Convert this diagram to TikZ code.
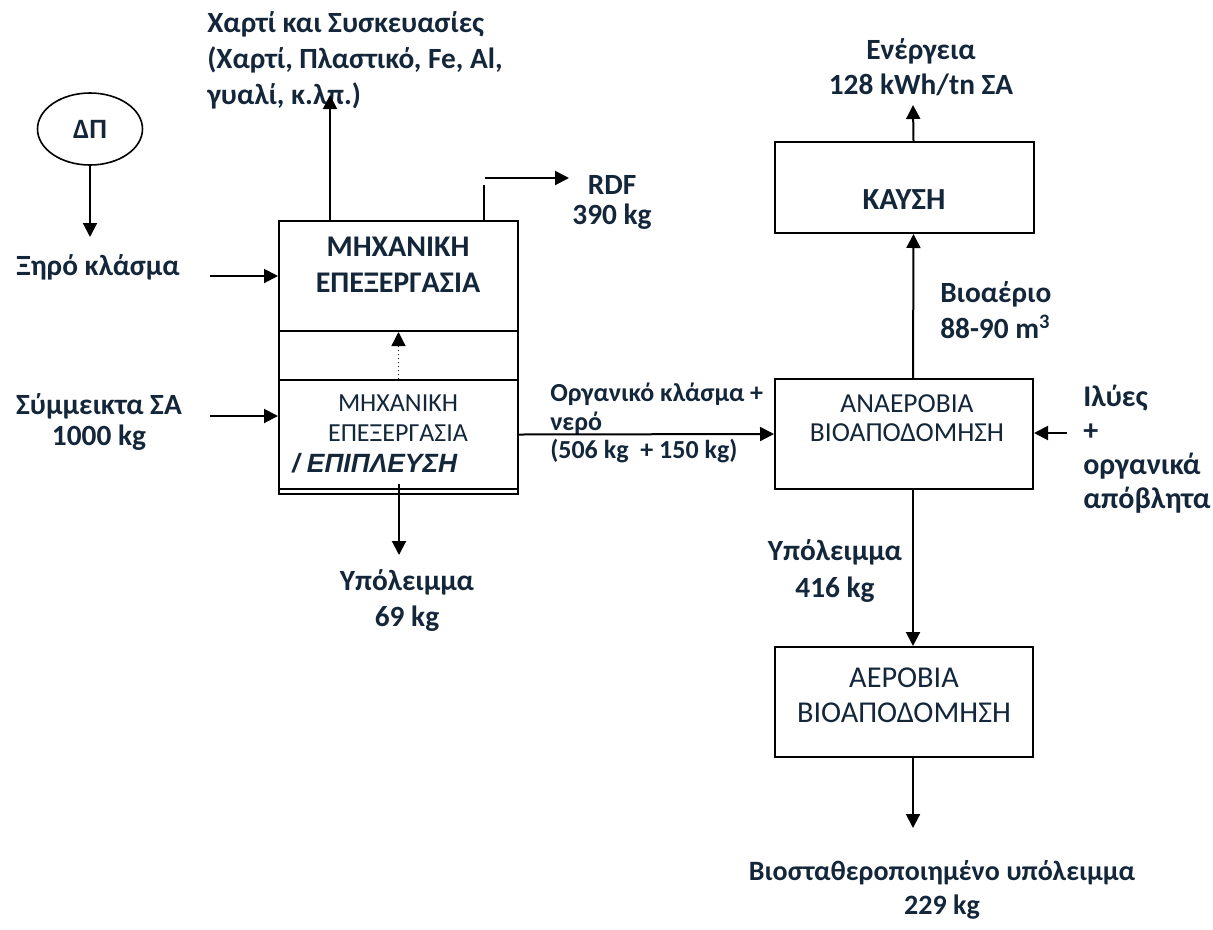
\documentclass[tikz,border=0pt]{standalone}
\usepackage{fontspec}
\setmainfont{Carlito}
\newfontfamily\floatfont{Liberation Sans}
\usetikzlibrary{arrows.meta,shapes.geometric}
\definecolor{ink}{RGB}{20,38,58}

\begin{document}
\begin{tikzpicture}[x=0.75pt, y=-0.75pt,
        flow/.style={line width=1.5pt, -{Triangle[length=10.5pt, width=10.5pt]}},
        wire/.style={line width=1.5pt},
        block/.style={draw, line width=1.5pt, rectangle, inner sep=0pt, minimum width=179.25pt},
        stage/.style={draw, line width=1.5pt, rectangle, inner sep=0pt, minimum width=193.5pt, minimum height=82.5pt},
        lbl/.style={text=ink, inner sep=0pt, align=center, font=\fontsize{22}{27}\selectfont\bfseries},
        inbox/.style={text=ink, inner sep=0pt, align=center}]
        \useasboundingbox (0, 0) rectangle (1213, 929);

        \node[draw, ellipse, line width=1.2pt, minimum width=78.75pt, minimum height=54pt, text=ink, font=\fontsize{21}{24}\selectfont\bfseries] (dp) at (90, 129) {ΔΠ};
        \node[lbl] (xiro) at (98, 267) {Ξηρό κλάσμα};
        \node[lbl, font=\fontsize{22}{23.5}\selectfont\bfseries] (mixed) at (99, 422) {Σύμμεικτα ΣΑ\\1000 kg};
        \node[lbl, anchor=west, align=left] (paper) at (207, 60) {Χαρτί και Συσκευασίες\\(Χαρτί, Πλαστικό, Fe, Al,\\γυαλί, κ.λπ.)};
        \node[lbl, font=\fontsize{22}{22.5}\selectfont\bfseries] (rdf) at (612, 202) {RDF\\390 kg};
        \node[lbl] (resid) at (407, 601) {Υπόλειμμα\\69 kg};
        \node[lbl, anchor=west, align=left, font=\fontsize{19.5}{21.4}\selectfont\bfseries] (organic) at (550, 423) {Οργανικό κλάσμα +\\νερό\\(506 kg~ + 150 kg)};
        \node[lbl, anchor=west, align=left, font=\fontsize{22.5}{25.5}\selectfont\bfseries] (sludge) at (1083, 449) {Ιλύες\\+\\οργανικά\\απόβλητα};
        \node[lbl, anchor=west, align=left] (biogas) at (940, 310) {Βιοαέριο\\88-90 m\textsuperscript{3}};
        \node[lbl, font=\fontsize{22}{26}\selectfont\bfseries] (energy) at (921, 67) {Ενέργεια\\128 kWh/tn ΣΑ};
        \node[lbl, font=\fontsize{22}{28}\selectfont\bfseries] (digres) at (835, 571) {Υπόλειμμα\\416 kg};
        \node[lbl, font=\fontsize{21}{26}\selectfont\bfseries] (stab) at (942, 890) {Βιοσταθεροποιημένο υπόλειμμα\\229 kg};

        \node[block, minimum height=82.5pt] (mechtop) at (398.5, 276) {};
        \node[block, minimum height=36.75pt] (mechmid) at (398.5, 355.5) {};
        \node[block, minimum height=81.75pt] (mechlow) at (398.5, 434.5) {};
        \node[block, minimum height=3.75pt] (mechbase) at (398.5, 491.5) {};
        \node[stage, minimum width=194.25pt, minimum height=68.25pt] (kausi) at (904.5, 187.5) {};
        \node[stage] (anaer) at (904, 434) {};
        \node[stage] (aer) at (904, 702) {};

        \node[inbox, font=\fontsize{22.5}{27}\selectfont\bfseries] (mechtoptxt) at (398, 265) {ΜΗΧΑΝΙΚΗ\\ΕΠΕΞΕΡΓΑΣΙΑ};
        \node[inbox, font=\fontsize{19.5}{22.5}\selectfont] (mechlowtxt) at (398, 418) {ΜΗΧΑΝΙΚΗ\\ΕΠΕΞΕΡΓΑΣΙΑ};
        \node[inbox, anchor=west, font=\fontsize{19.8}{22}\floatfont\bfseries\itshape] (floattxt) at (292, 463) {/ ΕΠΙΠΛΕΥΣΗ};
        \node[inbox, font=\fontsize{23}{26}\selectfont\bfseries] (kausitxt) at (904, 200) {ΚΑΥΣΗ};
        \node[inbox, font=\fontsize{20.6}{22}\selectfont] (anaertxt) at (907, 418) {ΑΝΑΕΡΟΒΙΑ\\ΒΙΟΑΠΟΔΟΜΗΣΗ};
        \node[inbox, font=\fontsize{22.7}{26}\selectfont] (aertxt) at (904, 695) {ΑΕΡΟΒΙΑ\\ΒΙΟΑΠΟΔΟΜΗΣΗ};

        \coordinate (drytip) at (90, 237);
        \coordinate (xirotail) at (210, 276);
        \coordinate (mixtail) at (210, 416);
        \coordinate (papertip) at (330, 95);
        \coordinate (rdfbend) at (484, 185);
        \coordinate (rdfstart) at (485, 178);
        \coordinate (rdftip) at (569, 178);
        \coordinate (residtip) at (399, 555);
        \coordinate (sludgetail) at (1067, 433);
        \coordinate (energytip) at (913, 105);
        \coordinate (stabtip) at (913, 828);

        \draw[flow] (dp) -- (drytip);
        \draw[flow] (xirotail) -- (xirotail -| mechtop.west);
        \draw[flow] (mixtail) -- (mixtail -| mechlow.west);
        \draw[flow] (mechtop.north -| papertip) -- (papertip);
        \draw[wire] (mechtop.north -| rdfbend) -- (rdfbend);
        \draw[flow] (rdfstart) -- (rdftip);
        \draw[flow, line width=1pt, dotted] (mechlow.north) -- ([yshift=-1.5pt]mechmid.north);
        \draw[flow] ([yshift=3pt]mechbase.north -| residtip) -- (residtip);
        \draw[flow] (mechlow.east) -- (anaer.west);
        \draw[flow] (sludgetail) -- (sludgetail -| anaer.east);
        \draw[flow] ([xshift=6.75pt]anaer.north) -- ([xshift=6.75pt]kausi.south);
        \draw[flow] ([xshift=6.75pt]kausi.north) -- (energytip);
        \draw[flow] ([xshift=6.75pt]anaer.south) -- ([xshift=6.75pt]aer.north);
        \draw[flow] ([xshift=6.75pt]aer.south) -- (stabtip);
\end{tikzpicture}
\end{document}
